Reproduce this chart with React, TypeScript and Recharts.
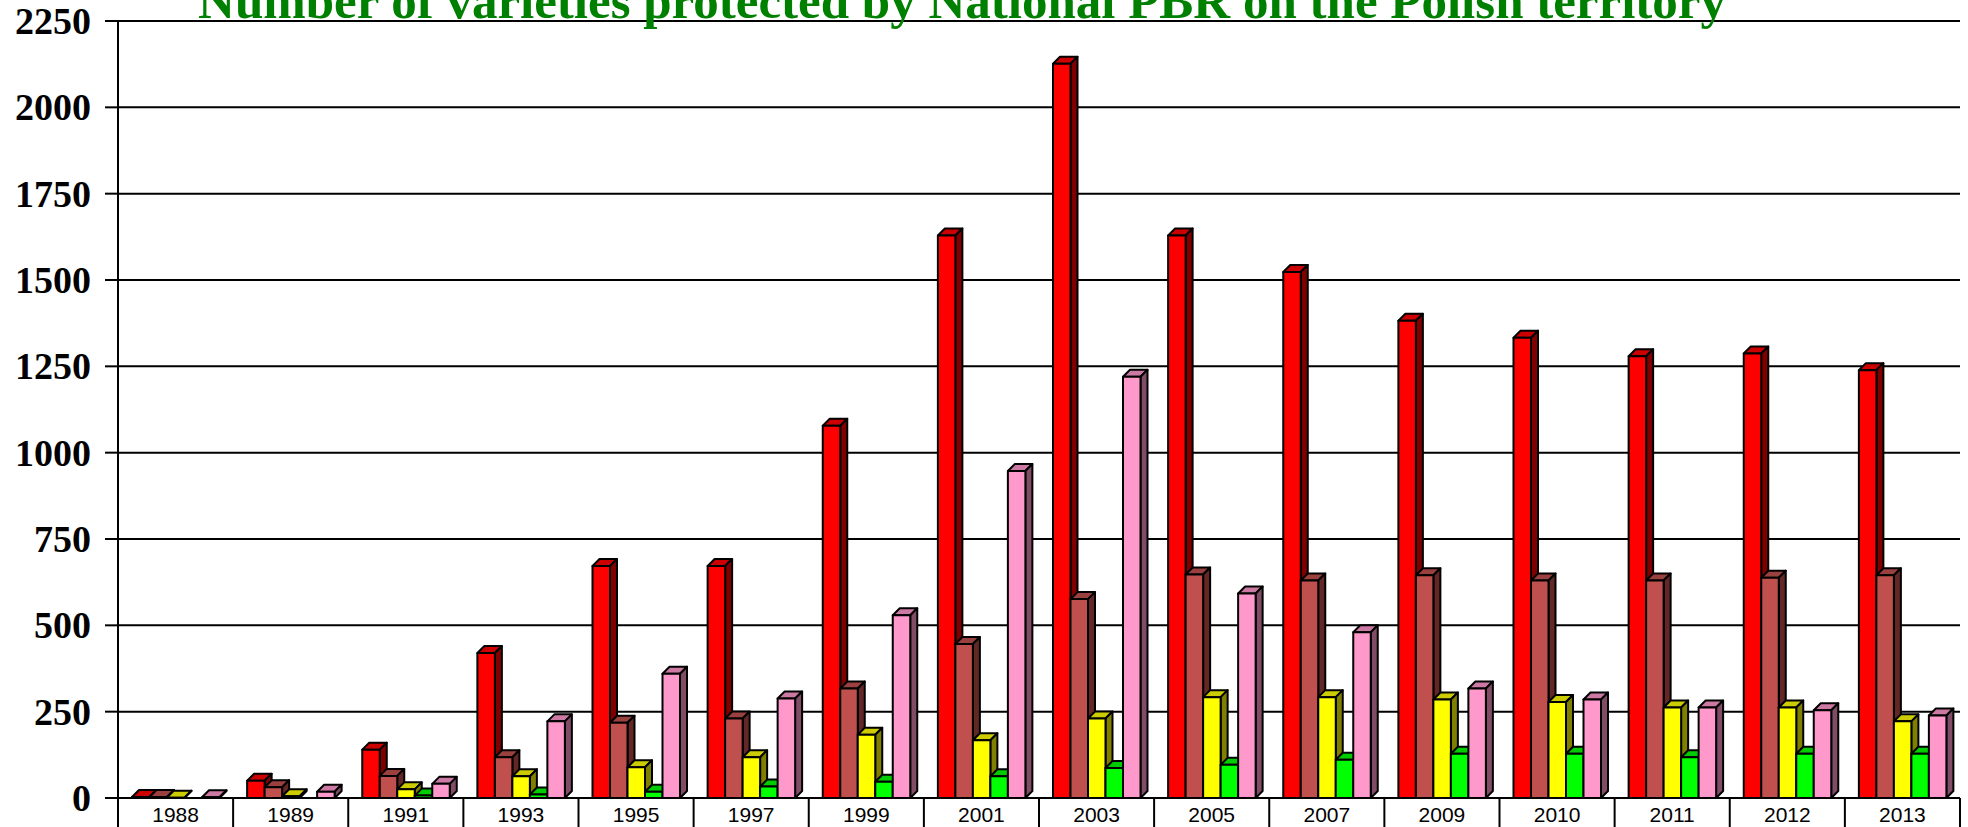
import { BarChart, Bar, XAxis, YAxis, CartesianGrid } from "recharts";

// lata (kategorie)
const years = [
  "1988", "1989", "1991", "1993", "1995", "1997", "1999", "2001",
  "2003", "2005", "2007", "2009", "2010", "2011", "2012", "2013",
];

// serie
const redValues = [3, 50, 140, 420, 672, 672, 1078, 1629, 2126, 1629, 1523, 1382, 1333, 1279, 1287, 1239];
const brownValues = [3, 31, 64, 118, 218, 230, 317, 446, 576, 647, 630, 645, 630, 630, 638, 645];
const yellowValues = [1, 5, 25, 63, 89, 118, 183, 167, 230, 292, 292, 285, 278, 262, 262, 222];
const greenValues = [null, null, 7, 10, 18, 33, 47, 63, 87, 96, 111, 128, 128, 118, 128, 128];
const pinkValues = [2, 18, 41, 222, 360, 288, 529, 947, 1220, 592, 480, 317, 285, 262, 254, 239];

const yTicks = [0, 250, 500, 750, 1000, 1250, 1500, 1750, 2000, 2250];

const TITLE = "Number of varieties protected by National PBR on the Polish territory";

const W = 1968;
const H = 827;
const LEFT = 118;
const RIGHT = 8;
const BAND = (W - LEFT - RIGHT) / years.length;

const data = years.map((year, i) => ({
  year,
  red: redValues[i],
  brown: brownValues[i],
  yellow: yellowValues[i],
  green: greenValues[i],
  pink: pinkValues[i],
}));

// kolory: przód, góra, bok
const faces: Record<string, [string, string, string]> = {
  red: ["#FF0000", "#CC0000", "#800000"],
  brown: ["#C0504D", "#9A403E", "#632826"],
  yellow: ["#FFFF00", "#CCCC00", "#808000"],
  green: ["#00FF00", "#00CC00", "#008000"],
  pink: ["#FF99CC", "#CC7AA3", "#804C66"],
};

const D = 7;

function bar3d(key: string) {
  return (props: any) => {
    const { x, y, width, height, value } = props;
    if (value == null || x == null) return <g />;
    const [front, top, side] = faces[key];
    const h = Math.max(height, 0);
    return (
      <g stroke="#000" strokeWidth={2} strokeLinejoin="round">
        <polygon
          points={`${x},${y} ${x + D},${y - D} ${x + width + D},${y - D} ${x + width},${y}`}
          fill={top}
        />
        <polygon
          points={`${x + width},${y} ${x + width + D},${y - D} ${x + width + D},${y + h - D} ${x + width},${y + h}`}
          fill={side}
        />
        <rect x={x} y={y} width={width} height={h} fill={front} />
      </g>
    );
  };
}

function YTick({ x, y, payload }: any) {
  return (
    <text
      x={x}
      y={y}
      dy={13}
      textAnchor="end"
      fontFamily="'Liberation Serif', serif"
      fontWeight="bold"
      fontSize={38}
      fill="#000"
    >
      {payload.value}
    </text>
  );
}

function XTick({ x, y, payload, index }: any) {
  const left = x - BAND / 2;
  const right = x + BAND / 2;
  return (
    <g>
      <line x1={left} x2={left} y1={y} y2={y + 30} stroke="#000" strokeWidth={2} />
      {index === years.length - 1 && (
        <line x1={right} x2={right} y1={y} y2={y + 30} stroke="#000" strokeWidth={2} />
      )}
      <text
        x={x}
        y={y + 24}
        textAnchor="middle"
        fontFamily="'Liberation Sans', Arial, sans-serif"
        fontSize={21}
        fill="#000"
      >
        {payload.value}
      </text>
    </g>
  );
}

export default function App() {
  return (
    <div style={{ position: "absolute", left: 0, top: 0, width: W, height: H, background: "#fff" }}>
      <BarChart
        width={W}
        height={H}
        data={data}
        margin={{ top: 21, right: RIGHT, left: 0, bottom: 0 }}
        barGap={0}
        barSize={17.5}
      >
        <CartesianGrid vertical={false} stroke="#000" strokeWidth={2} strokeDasharray="" />
        <XAxis
          dataKey="year"
          height={29}
          interval={0}
          tickSize={0}
          tickMargin={0}
          tickLine={false}
          axisLine={{ stroke: "#000", strokeWidth: 2 }}
          tick={<XTick />}
        />
        <YAxis
          width={LEFT}
          domain={[0, 2250]}
          ticks={yTicks}
          interval={0}
          tickSize={13}
          tickMargin={14}
          tickLine={{ stroke: "#000", strokeWidth: 2 }}
          axisLine={{ stroke: "#000", strokeWidth: 2 }}
          tick={<YTick />}
        />
        <Bar dataKey="red" isAnimationActive={false} shape={bar3d("red")} />
        <Bar dataKey="brown" isAnimationActive={false} shape={bar3d("brown")} />
        <Bar dataKey="yellow" isAnimationActive={false} shape={bar3d("yellow")} />
        <Bar dataKey="green" isAnimationActive={false} shape={bar3d("green")} />
        <Bar dataKey="pink" isAnimationActive={false} shape={bar3d("pink")} />
      </BarChart>
      <svg
        width={W}
        height={H}
        style={{ position: "absolute", left: 0, top: 0, pointerEvents: "none" }}
      >
        <text
          x={962}
          y={18}
          textAnchor="middle"
          fontFamily="'Liberation Serif', serif"
          fontWeight="bold"
          fontSize={51}
          fill="#008000"
        >
          {TITLE}
        </text>
      </svg>
    </div>
  );
}
